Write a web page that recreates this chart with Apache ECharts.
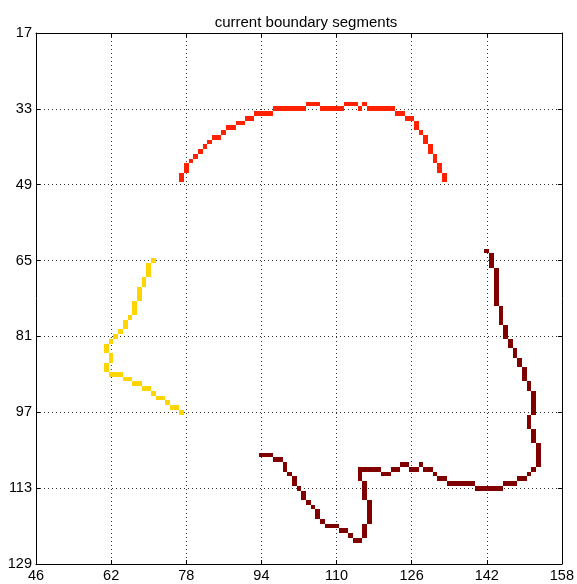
<!DOCTYPE html>
<html>
<head>
<meta charset="utf-8">
<script src="https://cdn.jsdelivr.net/npm/echarts@6/dist/echarts.min.js"></script>
<style>
html,body{margin:0;padding:0;background:#fff;}
#chart{width:577px;height:584px;}
</style>
</head>
<body>
<div id="chart"></div>
<script>
// Tick values
const xTicks = [46, 62, 78, 94, 110, 126, 142, 158];
const yTicks = [17, 33, 49, 65, 81, 97, 113, 129];

// Boundary segment cells [column, row]
const segmentTop = [
  [77,48],[77,47],[78,46],[78,45],[79,44],[80,43],[81,42],[82,41],[83,40],[84,39],[85,39],
  [86,38],[87,37],[88,37],[89,36],[90,36],[91,35],[92,35],[93,34],[94,34],[95,34],[96,34],
  [97,33],[98,33],[99,33],[100,33],[101,33],[102,33],[103,33],[104,32],[105,32],[106,32],
  [107,33],[108,33],[109,33],[110,33],[111,33],[112,32],[113,32],[114,32],[115,33],[116,32],
  [117,33],[118,33],[119,33],[120,33],[121,33],[122,33],[123,34],[124,34],[125,35],[126,35],
  [127,36],[127,37],[128,38],[129,39],[129,40],[130,41],[130,42],[131,43],[131,44],[132,45],
  [132,46],[133,47],[133,48]
];

const segmentLeft = [
  [71,65],[70,66],[70,67],[70,68],[69,69],[69,70],[68,71],[68,72],[68,73],[67,74],[67,75],
  [67,76],[66,77],[65,78],[65,79],[64,80],[63,81],[62,82],[61,83],[61,84],[62,85],[62,86],
  [61,87],[61,88],[62,89],[63,89],[64,89],[65,90],[66,90],[67,91],[68,91],[69,92],[70,92],
  [71,93],[72,94],[73,94],[74,95],[75,96],[76,96],[77,97]
];

const segmentRight = [
  [142,63],[143,64],[143,65],[143,66],
  [144,67],[144,68],[144,69],[144,70],[144,71],[144,72],[144,73],[144,74],
  [145,75],[145,76],[145,77],[145,78],[146,79],[146,80],[146,81],[147,82],[147,83],
  [148,84],[148,85],[149,86],[149,87],[150,88],[150,89],[150,90],[151,91],[151,92],
  [152,93],[152,94],[152,95],[152,96],[152,97],[151,98],[151,99],[151,100],
  [152,101],[152,102],[152,103],[153,104],[153,105],[153,106],[153,107],[153,108],
  [152,109],[151,110],[150,111],[149,111],[148,112],[147,112],[146,112],
  [145,113],[144,113],[143,113],[142,113],[141,113],[140,113],
  [139,112],[138,112],[137,112],[136,112],[135,112],[134,112],
  [133,111],[132,111],[131,110],[130,109],[129,109],[128,108],[127,109],[126,109],
  [125,108],[124,108],[123,109],[122,109],[121,110],[120,110],
  [119,109],[118,109],[117,109],[116,109],[115,109],[115,110],[115,111],
  [116,112],[116,113],[116,114],[116,115],[117,116],[117,117],[117,118],[117,119],[117,120],
  [116,121],[116,122],[116,123],[115,124],[114,124],[113,123],[112,122],[111,122],
  [110,121],[109,121],[108,121],[107,120],[106,119],[106,118],[105,117],[104,116],
  [103,115],[103,114],[102,113],[101,112],[101,111],[100,110],[99,109],[99,108],
  [98,107],[97,107],[96,106],[95,106],[94,106]
];

const segColors = ['#ff2100', '#ffd500', '#800000'];

const chart = echarts.init(document.getElementById('chart'), null, {renderer: 'canvas'});

function cellRenderer(color) {
  return function (params, api) {
    const x = api.value(0), y = api.value(1);
    const p1 = api.coord([x - 0.5, y - 0.5]);
    const p2 = api.coord([x + 0.5, y + 0.5]);
    const x0 = Math.round(Math.min(p1[0], p2[0]));
    const x1 = Math.round(Math.max(p1[0], p2[0]));
    const y0 = Math.round(Math.min(p1[1], p2[1]));
    const y1 = Math.round(Math.max(p1[1], p2[1]));
    return {
      type: 'rect',
      shape: {x: x0, y: y0, width: x1 - x0, height: y1 - y0},
      style: {fill: color, stroke: null}
    };
  };
}

const gridStyle = {show: true, lineStyle: {color: '#333', width: 1, type: [1, 3]}};
const fontFam = 'Liberation Sans, Arial, sans-serif';

const option = {
  backgroundColor: '#fff',
  animation: false,
  title: {
    text: 'current boundary segments',
    left: 301, top: 10, textAlign: 'center',
    textStyle: {color: '#000', fontSize: 15, fontWeight: 'normal', fontFamily: fontFam}
  },
  grid: {left: 36, right: 11, top: 33, bottom: 20, containLabel: false},
  xAxis: [{
    type: 'value', min: xTicks[0], max: xTicks[xTicks.length - 1], interval: 16,
    position: 'bottom',
    axisLine: {show: true, lineStyle: {color: '#000', width: 1}},
    axisTick: {show: true, inside: true, length: 4, lineStyle: {color: '#000'}},
    axisLabel: {margin: 4, color: '#000', fontSize: 14.5, fontFamily: fontFam},
    splitLine: gridStyle
  }, {
    type: 'value', min: xTicks[0], max: xTicks[xTicks.length - 1], interval: 16,
    position: 'top',
    axisLine: {show: true, lineStyle: {color: '#000', width: 1}},
    axisTick: {show: true, inside: true, length: 4, lineStyle: {color: '#000'}},
    axisLabel: {show: false},
    splitLine: {show: false}
  }],
  yAxis: [{
    type: 'value', min: yTicks[0], max: yTicks[yTicks.length - 1], interval: 16,
    inverse: true, position: 'left',
    axisLine: {show: true, lineStyle: {color: '#000', width: 1}},
    axisTick: {show: true, inside: true, length: 4, lineStyle: {color: '#000'}},
    axisLabel: {margin: 4, color: '#000', fontSize: 14.5, fontFamily: fontFam},
    splitLine: gridStyle
  }, {
    type: 'value', min: yTicks[0], max: yTicks[yTicks.length - 1], interval: 16,
    inverse: true, position: 'right',
    axisLine: {show: true, lineStyle: {color: '#000', width: 1}},
    axisTick: {show: true, inside: true, length: 4, lineStyle: {color: '#000'}},
    axisLabel: {show: false},
    splitLine: {show: false}
  }],
  series: [segmentTop, segmentLeft, segmentRight].map(function (seg, i) {
    return {
      type: 'custom',
      xAxisIndex: 0, yAxisIndex: 0,
      renderItem: cellRenderer(segColors[i]),
      encode: {x: 0, y: 1},
      data: seg,
      clip: true
    };
  })
};

chart.setOption(option);
</script>
</body>
</html>
